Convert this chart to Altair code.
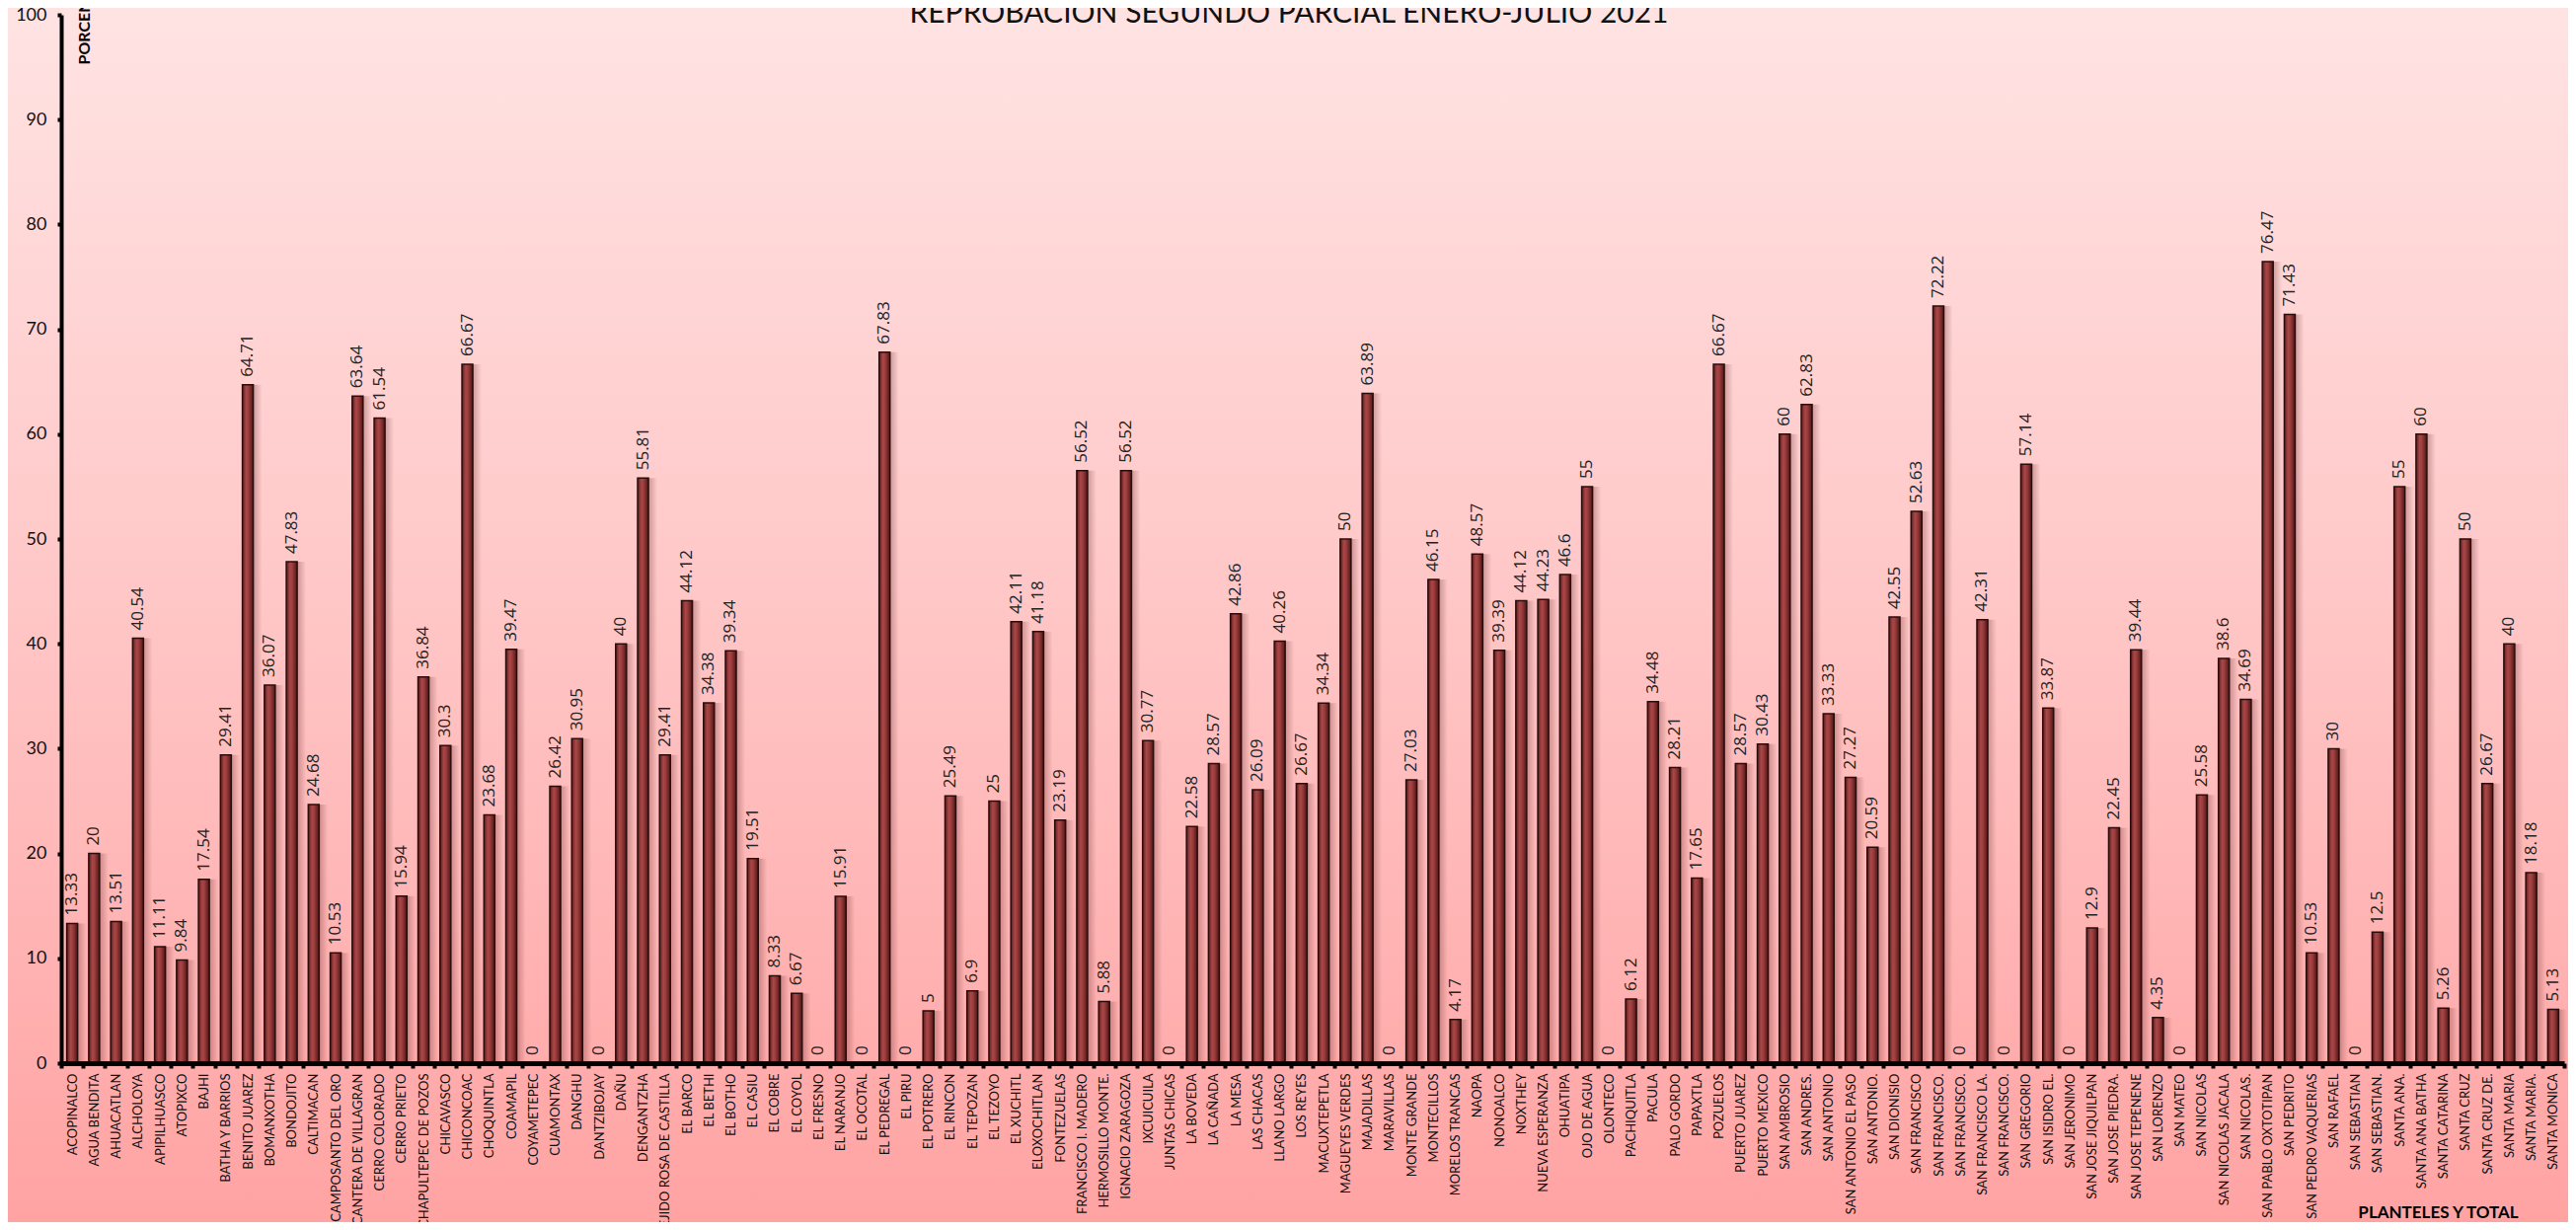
import json
import altair as alt
import pandas as pd

names = [
    "ACOPINALCO", "AGUA BENDITA", "AHUACATLAN", "ALCHOLOYA", "APIPILHUASCO", "ATOPIXCO",
    "BAJHI", "BATHA Y BARRIOS", "BENITO JUAREZ", "BOMANXOTHA", "BONDOJITO", "CALTIMACAN",
    "CAMPOSANTO DEL ORO", "CANTERA DE VILLAGRAN", "CERRO COLORADO", "CERRO PRIETO",
    "CHAPULTEPEC DE POZOS", "CHICAVASCO", "CHICONCOAC", "CHOQUINTLA", "COAMAPIL",
    "COYAMETEPEC", "CUAMONTAX", "DANGHU", "DANTZIBOJAY", "DAÑU", "DENGANTZHA",
    "EJIDO ROSA DE CASTILLA", "EL BARCO", "EL BETHI", "EL BOTHO", "EL CASIU", "EL COBRE",
    "EL COYOL", "EL FRESNO", "EL NARANJO", "EL OCOTAL", "EL PEDREGAL", "EL PIRU",
    "EL POTRERO", "EL RINCON", "EL TEPOZAN", "EL TEZOYO", "EL XUCHITL", "ELOXOCHITLAN",
    "FONTEZUELAS", "FRANCISCO I. MADERO", "HERMOSILLO MONTE.", "IGNACIO ZARAGOZA",
    "IXCUICUILA", "JUNTAS CHICAS", "LA BOVEDA", "LA CAÑADA", "LA MESA", "LAS CHACAS",
    "LLANO LARGO", "LOS REYES", "MACUXTEPETLA", "MAGUEYES VERDES", "MAJADILLAS",
    "MARAVILLAS", "MONTE GRANDE", "MONTECILLOS", "MORELOS TRANCAS", "NAOPA", "NONOALCO",
    "NOXTHEY", "NUEVA ESPERANZA", "OHUATIPA", "OJO DE AGUA", "OLONTECO", "PACHIQUITLA",
    "PACULA", "PALO GORDO", "PAPAXTLA", "POZUELOS", "PUERTO JUAREZ", "PUERTO MEXICO",
    "SAN AMBROSIO", "SAN ANDRES.", "SAN ANTONIO", "SAN ANTONIO EL PASO", "SAN ANTONIO.",
    "SAN DIONISIO", "SAN FRANCISCO", "SAN FRANCISCO.", "SAN FRANCISCO.", "SAN FRANCISCO LA.",
    "SAN FRANCISCO.", "SAN GREGORIO", "SAN ISIDRO EL.", "SAN JERONIMO", "SAN JOSE JIQUILPAN",
    "SAN JOSE PIEDRA.", "SAN JOSE TEPENENE", "SAN LORENZO", "SAN MATEO", "SAN NICOLAS",
    "SAN NICOLAS JACALA", "SAN NICOLAS.", "SAN PABLO OXTOTIPAN", "SAN PEDRITO",
    "SAN PEDRO VAQUERIAS", "SAN RAFAEL", "SAN SEBASTIAN", "SAN SEBASTIAN.", "SANTA ANA.",
    "SANTA ANA BATHA", "SANTA CATARINA", "SANTA CRUZ", "SANTA CRUZ DE.", "SANTA MARIA",
    "SANTA MARIA.", "SANTA MONICA",
]

values = [
    13.33, 20, 13.51, 40.54, 11.11, 9.84,
    17.54, 29.41, 64.71, 36.07, 47.83, 24.68,
    10.53, 63.64, 61.54, 15.94,
    36.84, 30.3, 66.67, 23.68, 39.47,
    0, 26.42, 30.95, 0, 40, 55.81,
    29.41, 44.12, 34.38, 39.34, 19.51, 8.33,
    6.67, 0, 15.91, 0, 67.83, 0,
    5, 25.49, 6.9, 25, 42.11, 41.18,
    23.19, 56.52, 5.88, 56.52,
    30.77, 0, 22.58, 28.57, 42.86, 26.09,
    40.26, 26.67, 34.34, 50, 63.89,
    0, 27.03, 46.15, 4.17, 48.57, 39.39,
    44.12, 44.23, 46.6, 55, 0, 6.12,
    34.48, 28.21, 17.65, 66.67, 28.57, 30.43,
    60, 62.83, 33.33, 27.27, 20.59,
    42.55, 52.63, 72.22, 0, 42.31,
    0, 57.14, 33.87, 0, 12.9,
    22.45, 39.44, 4.35, 0, 25.58,
    38.6, 34.69, 76.47, 71.43,
    10.53, 30, 0, 12.5, 55,
    60, 5.26, 50, 26.67, 40,
    18.18, 5.13,
]

y_ticks = [0, 10, 20, 30, 40, 50, 60, 70, 80, 90, 100]
title_text = "REPROBACION SEGUNDO PARCIAL ENERO-JULIO 2021"

df = pd.DataFrame({"idx": list(range(len(names))), "name": names, "value": values})
df["label"] = [f"{v:g}" for v in values]

W, H = 2536, 1062
PL, PT, PR, PB = 54, 7, 4, 161

label_expr = json.dumps(names, ensure_ascii=False) + "[datum.value]"

x_enc = alt.X(
    "idx:O",
    scale=alt.Scale(paddingInner=0, paddingOuter=0),
    axis=alt.Axis(
        title="PLANTELES Y TOTAL",
        labelExpr=label_expr,
        labelAngle=270,
        labelAlign="right",
        labelBaseline="middle",
        labelFont="Lato",
        labelFontSize=13,
        labelColor="#111111",
        labelPadding=5,
        labelLimit=300,
        labelOverlap=False,
        tickBand="extent",
        ticks=True,
        tickSize=5,
        tickWidth=4,
        tickColor="#000000",
        domainColor="#000000",
        domainWidth=5,
        titleFont="Lato",
        titleFontWeight="bold",
        titleFontSize=17,
        titleColor="#000000",
        titleX=2408,
        titleY=156,
        titleAlign="center",
        titleBaseline="alphabetic",
        zindex=1,
    ),
)

y_enc = alt.Y(
    "value:Q",
    scale=alt.Scale(domain=[0, 100], nice=False),
    axis=alt.Axis(
        values=y_ticks,
        title="PORCENTAJE",
        titleAngle=270,
        titleX=23,
        titleY=50,
        titleAlign="left",
        titleBaseline="middle",
        titleFont="Lato",
        titleFontWeight="bold",
        titleFontSize=16,
        titleColor="#000000",
        labelFont="Lato",
        labelFontSize=18,
        labelColor="#111111",
        labelPadding=11,
        tickSize=4,
        tickWidth=4,
        tickColor="#000000",
        domainColor="#000000",
        domainWidth=4,
        grid=False,
        zindex=1,
    ),
)

bg_grad = {
    "gradient": "linear", "x1": 0, "y1": 0, "x2": 0, "y2": 1,
    "stops": [
        {"offset": 0, "color": "#ffe3e3"},
        {"offset": 0.5, "color": "#ffc6c6"},
        {"offset": 1, "color": "#ffa3a3"},
    ],
}
bar_grad = {
    "gradient": "linear", "x1": 0, "y1": 0, "x2": 1, "y2": 0,
    "stops": [
        {"offset": 0, "color": "#5e1c1c"},
        {"offset": 0.35, "color": "#a94747"},
        {"offset": 0.55, "color": "#9c3d3d"},
        {"offset": 1, "color": "#4e1616"},
    ],
}
shadow_grad = {
    "gradient": "linear", "x1": 0, "y1": 0, "x2": 1, "y2": 0,
    "stops": [
        {"offset": 0, "color": "rgba(90,30,30,0.45)"},
        {"offset": 1, "color": "rgba(90,30,30,0)"},
    ],
}

bg = alt.Chart(pd.DataFrame({"k": [0]})).mark_rect(fill=bg_grad, strokeWidth=0).encode(
    x=alt.value(-PL), x2=alt.value(W + PR), y=alt.value(-PT), y2=alt.value(H + PB)
)

title_layer = alt.Chart(pd.DataFrame({"t": [title_text]})).mark_text(
    font="Lato", fontSize=30, color="#111111", align="center", baseline="alphabetic"
).encode(x=alt.value(W / 2 - 24), y=alt.value(8), text="t:N")

base = alt.Chart(df)

shadow = base.mark_bar(size=13, xOffset=8, fill=shadow_grad, strokeWidth=0).encode(
    x=x_enc, y=y_enc, y2=alt.datum(0)
)

bars = base.mark_bar(size=11, fill=bar_grad, stroke="#2a0c0c", strokeWidth=1.5).encode(
    x=x_enc, y=y_enc, y2=alt.datum(0)
)

labels = base.mark_text(
    angle=270, align="left", baseline="middle", dx=8,
    font="Open Sans", fontSize=17, color="#222222",
).encode(x=x_enc, y=y_enc, text="label:N")

chart = alt.layer(bg, shadow, bars, labels, title_layer).properties(
    width=W,
    height=H,
    padding={"left": PL, "top": PT, "right": PR, "bottom": PB},
    autosize=alt.AutoSizeParams(type="none"),
).configure_view(strokeWidth=0).configure(background="#ffffff")

chart.save("out.html", embed_options={"renderer": "svg", "actions": False})
